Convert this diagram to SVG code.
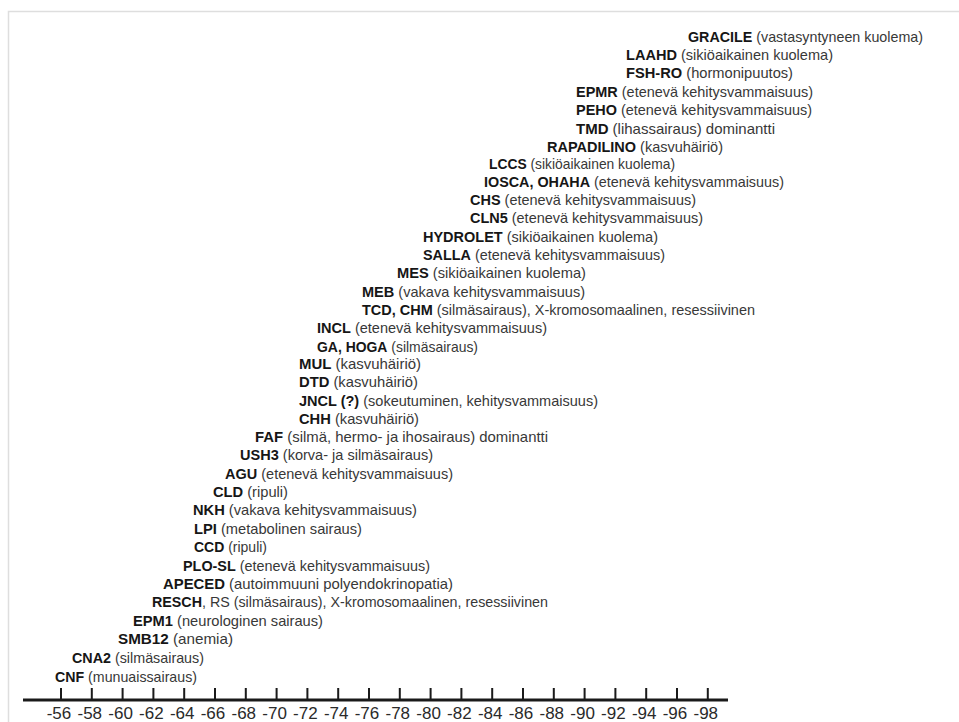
<svg xmlns="http://www.w3.org/2000/svg" width="959" height="722" viewBox="0 0 959 722">
<style>
text{font-family:"Liberation Sans","DejaVu Sans",Arial,sans-serif;font-size:15px;fill:#383838}
.b{font-weight:bold;fill:#161616}
.ax{font-size:17px;fill:#2a2a2a;text-anchor:middle}
.tick{stroke:#1a1a1a;stroke-width:2}
</style>
<rect x="0" y="0" width="959" height="722" fill="#ffffff"/>
<path d="M8.5,722 V11.5 H959" fill="none" stroke="#dedede" stroke-width="1.5"/>
<g id="nodes">
<g id="n-gracile"><text x="688" y="42" textLength="235" lengthAdjust="spacingAndGlyphs"><tspan class="b">GRACILE</tspan> (vastasyntyneen kuolema)</text></g>
<g id="n-laahd"><text x="626" y="60" textLength="207" lengthAdjust="spacingAndGlyphs"><tspan class="b">LAAHD</tspan> (sikiöaikainen kuolema)</text></g>
<g id="n-fshro"><text x="626" y="78" textLength="167" lengthAdjust="spacingAndGlyphs"><tspan class="b">FSH-RO</tspan> (hormonipuutos)</text></g>
<g id="n-epmr"><text x="576" y="97" textLength="237" lengthAdjust="spacingAndGlyphs"><tspan class="b">EPMR</tspan> (etenevä kehitysvammaisuus)</text></g>
<g id="n-peho"><text x="576" y="115" textLength="236" lengthAdjust="spacingAndGlyphs"><tspan class="b">PEHO</tspan> (etenevä kehitysvammaisuus)</text></g>
<g id="n-tmd"><text x="576" y="134" textLength="199" lengthAdjust="spacingAndGlyphs"><tspan class="b">TMD</tspan> (lihassairaus) dominantti</text></g>
<g id="n-rapadilino"><text x="547" y="152" textLength="176" lengthAdjust="spacingAndGlyphs"><tspan class="b">RAPADILINO</tspan> (kasvuhäiriö)</text></g>
<g id="n-lccs"><text x="489" y="169" textLength="186" lengthAdjust="spacingAndGlyphs"><tspan class="b">LCCS</tspan> (sikiöaikainen kuolema)</text></g>
<g id="n-iosca"><text x="484" y="187" textLength="300" lengthAdjust="spacingAndGlyphs"><tspan class="b">IOSCA, OHAHA</tspan> (etenevä kehitysvammaisuus)</text></g>
<g id="n-chs"><text x="470" y="205" textLength="226" lengthAdjust="spacingAndGlyphs"><tspan class="b">CHS</tspan> (etenevä kehitysvammaisuus)</text></g>
<g id="n-cln5"><text x="470" y="223" textLength="233" lengthAdjust="spacingAndGlyphs"><tspan class="b">CLN5</tspan> (etenevä kehitysvammaisuus)</text></g>
<g id="n-hydrolet"><text x="423" y="242" textLength="235" lengthAdjust="spacingAndGlyphs"><tspan class="b">HYDROLET</tspan> (sikiöaikainen kuolema)</text></g>
<g id="n-salla"><text x="423" y="260" textLength="242" lengthAdjust="spacingAndGlyphs"><tspan class="b">SALLA</tspan> (etenevä kehitysvammaisuus)</text></g>
<g id="n-mes"><text x="397" y="278" textLength="189" lengthAdjust="spacingAndGlyphs"><tspan class="b">MES</tspan> (sikiöaikainen kuolema)</text></g>
<g id="n-meb"><text x="362" y="297" textLength="223" lengthAdjust="spacingAndGlyphs"><tspan class="b">MEB</tspan> (vakava kehitysvammaisuus)</text></g>
<g id="n-tcd"><text x="362" y="315" textLength="393" lengthAdjust="spacingAndGlyphs"><tspan class="b">TCD, CHM</tspan> (silmäsairaus), X-kromosomaalinen, resessiivinen</text></g>
<g id="n-incl"><text x="317" y="333" textLength="230" lengthAdjust="spacingAndGlyphs"><tspan class="b">INCL</tspan> (etenevä kehitysvammaisuus)</text></g>
<g id="n-ga"><text x="317" y="352" textLength="161" lengthAdjust="spacingAndGlyphs"><tspan class="b">GA, HOGA</tspan> (silmäsairaus)</text></g>
<g id="n-mul"><text x="299" y="369" textLength="122" lengthAdjust="spacingAndGlyphs"><tspan class="b">MUL</tspan> (kasvuhäiriö)</text></g>
<g id="n-dtd"><text x="299" y="387" textLength="119" lengthAdjust="spacingAndGlyphs"><tspan class="b">DTD</tspan> (kasvuhäiriö)</text></g>
<g id="n-jncl"><text x="299" y="406" textLength="299" lengthAdjust="spacingAndGlyphs"><tspan class="b">JNCL (?)</tspan> (sokeutuminen, kehitysvammaisuus)</text></g>
<g id="n-chh"><text x="299" y="424" textLength="120" lengthAdjust="spacingAndGlyphs"><tspan class="b">CHH</tspan> (kasvuhäiriö)</text></g>
<g id="n-faf"><text x="255" y="442" textLength="293" lengthAdjust="spacingAndGlyphs"><tspan class="b">FAF</tspan> (silmä, hermo- ja ihosairaus) dominantti</text></g>
<g id="n-ush3"><text x="240" y="460" textLength="193" lengthAdjust="spacingAndGlyphs"><tspan class="b">USH3</tspan> (korva- ja silmäsairaus)</text></g>
<g id="n-agu"><text x="225" y="479" textLength="228" lengthAdjust="spacingAndGlyphs"><tspan class="b">AGU</tspan> (etenevä kehitysvammaisuus)</text></g>
<g id="n-cld"><text x="213" y="497" textLength="75" lengthAdjust="spacingAndGlyphs"><tspan class="b">CLD</tspan> (ripuli)</text></g>
<g id="n-nkh"><text x="193" y="515" textLength="224" lengthAdjust="spacingAndGlyphs"><tspan class="b">NKH</tspan> (vakava kehitysvammaisuus)</text></g>
<g id="n-lpi"><text x="194" y="534" textLength="168" lengthAdjust="spacingAndGlyphs"><tspan class="b">LPI</tspan> (metabolinen sairaus)</text></g>
<g id="n-ccd"><text x="194" y="552" textLength="73" lengthAdjust="spacingAndGlyphs"><tspan class="b">CCD</tspan> (ripuli)</text></g>
<g id="n-plosl"><text x="183" y="571" textLength="247" lengthAdjust="spacingAndGlyphs"><tspan class="b">PLO-SL</tspan> (etenevä kehitysvammaisuus)</text></g>
<g id="n-apeced"><text x="163" y="589" textLength="290" lengthAdjust="spacingAndGlyphs"><tspan class="b">APECED</tspan> (autoimmuuni polyendokrinopatia)</text></g>
<g id="n-resch"><text x="152" y="607" textLength="396" lengthAdjust="spacingAndGlyphs"><tspan class="b">RESCH</tspan>, RS (silmäsairaus), X-kromosomaalinen, resessiivinen</text></g>
<g id="n-epm1"><text x="133" y="626" textLength="190" lengthAdjust="spacingAndGlyphs"><tspan class="b">EPM1</tspan> (neurologinen sairaus)</text></g>
<g id="n-smb12"><text x="118" y="644" textLength="115" lengthAdjust="spacingAndGlyphs"><tspan class="b">SMB12</tspan> (anemia)</text></g>
<g id="n-cna2"><text x="72" y="663" textLength="132" lengthAdjust="spacingAndGlyphs"><tspan class="b">CNA2</tspan> (silmäsairaus)</text></g>
<g id="n-cnf"><text x="55" y="682" textLength="142" lengthAdjust="spacingAndGlyphs"><tspan class="b">CNF</tspan> (munuaissairaus)</text></g>
</g>
<g id="axis">
<line x1="23" y1="700" x2="728" y2="700" stroke="#1a1a1a" stroke-width="3"/>
<path class="tick" d="M61,688V700 M91.8,688V700 M122.6,688V700 M153.4,688V700 M184.2,688V700 M215,688V700 M245.8,688V700 M276.6,688V700 M307.4,688V700 M338.2,688V700 M369,688V700 M399.8,688V700 M430.6,688V700 M461.4,688V700 M492.2,688V700 M523,688V700 M553.8,688V700 M584.6,688V700 M615.4,688V700 M646.2,688V700 M677,688V700 M707.8,688V700"/>
<text class="ax" x="59" y="719">-56</text>
<text class="ax" x="89.8" y="719">-58</text>
<text class="ax" x="120.6" y="719">-60</text>
<text class="ax" x="151.4" y="719">-62</text>
<text class="ax" x="182.2" y="719">-64</text>
<text class="ax" x="213" y="719">-66</text>
<text class="ax" x="243.8" y="719">-68</text>
<text class="ax" x="274.6" y="719">-70</text>
<text class="ax" x="305.4" y="719">-72</text>
<text class="ax" x="336.2" y="719">-74</text>
<text class="ax" x="367" y="719">-76</text>
<text class="ax" x="397.8" y="719">-78</text>
<text class="ax" x="428.6" y="719">-80</text>
<text class="ax" x="459.4" y="719">-82</text>
<text class="ax" x="490.2" y="719">-84</text>
<text class="ax" x="521" y="719">-86</text>
<text class="ax" x="551.8" y="719">-88</text>
<text class="ax" x="582.6" y="719">-90</text>
<text class="ax" x="613.4" y="719">-92</text>
<text class="ax" x="644.2" y="719">-94</text>
<text class="ax" x="675" y="719">-96</text>
<text class="ax" x="705.8" y="719">-98</text>
</g>
</svg>
